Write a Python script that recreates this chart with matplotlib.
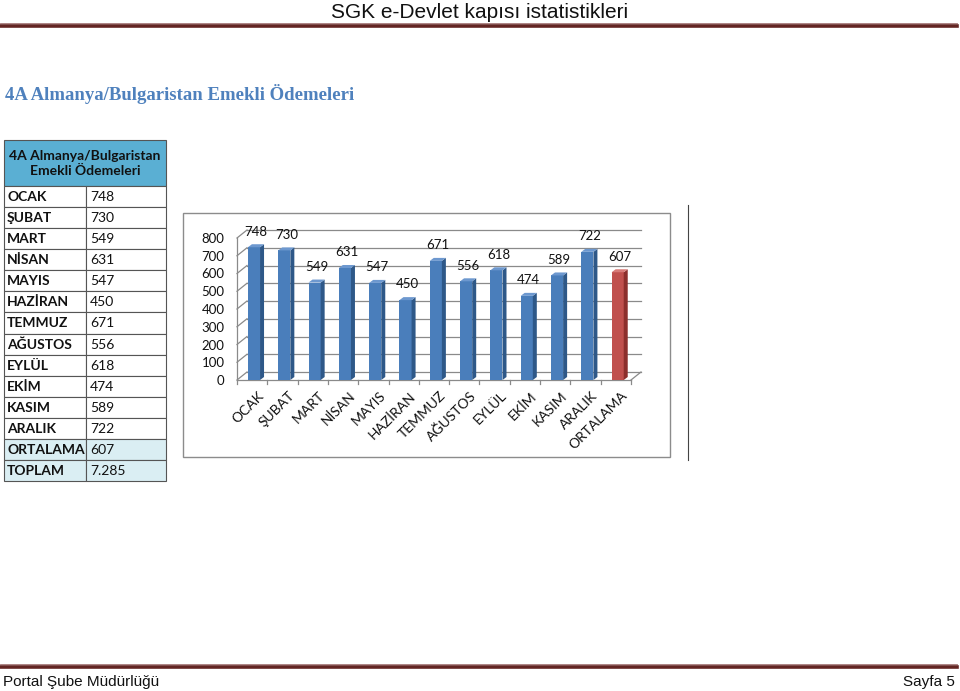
import numpy as np
import matplotlib
matplotlib.use("Agg")
import matplotlib.pyplot as plt
from matplotlib.patches import Rectangle, Polygon
import matplotlib.transforms as mtransforms

months = ["OCAK", "ŞUBAT", "MART", "NİSAN", "MAYIS", "HAZİRAN", "TEMMUZ",
          "AĞUSTOS", "EYLÜL", "EKİM", "KASIM", "ARALIK"]
values = [748, 730, 549, 631, 547, 450, 671, 556, 618, 474, 589, 722]
avg_label = "ORTALAMA"
avg_value = 607
total_label = "TOPLAM"
total_text = "7.285"
yticks = [0, 100, 200, 300, 400, 500, 600, 700, 800]

W, H = 960, 691
fig = plt.figure(figsize=(W / 100, H / 100), dpi=100)
fig.patch.set_facecolor("white")

# ---------- page overlay (pixel coordinates) ----------
pg = fig.add_axes([0, 0, 1, 1], zorder=0)
pg.set_xlim(0, W)
pg.set_ylim(H, 0)
pg.axis("off")

SANS = ["Lato", "DejaVu Sans"]
NARROW = ["Liberation Sans", "DejaVu Sans"]
SERIF = ["Liberation Serif", "DejaVu Serif"]
line_red = "#632523"

pg.text(480, 12, "SGK e-Devlet kapısı istatistikleri", ha="center", va="center",
        fontsize=15, family=NARROW, color="#111111")
pg.plot([0, 957], [22.5, 22.5], color="#a07070", lw=0.6)
pg.plot([0, 957], [25.5, 25.5], color=line_red, lw=2.6)
pg.plot([0, 957], [664, 664], color="#a07070", lw=0.6)
pg.plot([0, 957], [667, 667], color=line_red, lw=2.6)
pg.text(3, 682, "Portal Şube Müdürlüğü", ha="left", va="center",
        fontsize=11, family=NARROW, color="#111111")
pg.text(955, 682, "Sayfa 5", ha="right", va="center",
        fontsize=11, family=NARROW, color="#111111")

pg.text(5, 94, "4A Almanya/Bulgaristan Emekli Ödemeleri", ha="left", va="center",
        fontsize=13.5, family=SERIF, fontweight="bold", color="#4F81BD")

# ---------- table ----------
tx0, tx1, tsplit = 4, 166, 86
ty_head0, ty_head1 = 140, 186
rows = [(m, str(v)) for m, v in zip(months, values)] + \
       [(avg_label, str(avg_value)), (total_label, total_text)]
rh = (481 - ty_head1) / len(rows)
edge = "#555555"
pg.add_patch(Rectangle((tx0, ty_head0), tx1 - tx0, ty_head1 - ty_head0,
                       facecolor="#5AAFD3", edgecolor=edge, lw=0.8))
pg.text((tx0 + tx1) / 2, (ty_head0 + ty_head1) / 2 + 0.5,
        "4A Almanya/Bulgaristan\nEmekli Ödemeleri", ha="center", va="center",
        fontsize=10, family=SANS, fontweight="bold", color="#111111",
        linespacing=1.2)
for i, (lab, val) in enumerate(rows):
    y0 = ty_head1 + i * rh
    fc = "#DAEEF3" if i >= len(months) else "white"
    pg.add_patch(Rectangle((tx0, y0), tsplit - tx0, rh, facecolor=fc,
                           edgecolor=edge, lw=0.8))
    pg.add_patch(Rectangle((tsplit, y0), tx1 - tsplit, rh, facecolor=fc,
                           edgecolor=edge, lw=0.8))
    pg.text(tx0 + 3, y0 + rh / 2 + 0.5, lab, ha="left", va="center",
            fontsize=10, family=SANS, fontweight="bold", color="#111111")
    pg.text(tsplit + 4, y0 + rh / 2 + 0.5, val, ha="left", va="center",
            fontsize=10, family=SANS, color="#111111")

# chart frame
pg.add_patch(Rectangle((183, 213), 670 - 183, 457 - 213, facecolor="white",
                       edgecolor="#8c8c8c", lw=1.0))
pg.plot([687.5, 687.5], [205, 460], color="#444444", lw=0.8)

# ---------- chart ----------
ax_l, ax_r = 237, 631
ax_b, ax_t = 380, 238
ax = fig.add_axes([ax_l / W, (H - ax_b) / H, (ax_r - ax_l) / W, (ax_b - ax_t) / H],
                  zorder=2)
ax.patch.set_alpha(0)
cats = months + [avg_label]
vals = values + [avg_value]
x = np.arange(len(cats))
xmin, xmax = -0.5, len(cats) - 0.5
ax.set_xlim(xmin, xmax)
ax.set_ylim(0, 800)
ppx = (ax_r - ax_l) / (xmax - xmin)
ppy = (ax_b - ax_t) / 800.0

# walls / grid (3D look)
wx, wy = 10 / ppx, 8 / ppy
grid_c = "#8a8a8a"
for v in yticks:
    ax.plot([xmin + wx, xmax + wx], [v + wy, v + wy], color=grid_c, lw=0.9,
            zorder=1, clip_on=False)
    ax.plot([xmin, xmin + wx], [v, v + wy], color=grid_c, lw=0.9, zorder=1,
            clip_on=False)
ax.plot([xmin, xmin], [0, 800], color=grid_c, lw=0.9, zorder=1, clip_on=False)
ax.plot([xmin, xmax], [0, 0], color=grid_c, lw=0.9, zorder=1, clip_on=False)
ax.plot([xmax, xmax + wx], [0, wy], color=grid_c, lw=0.9, zorder=1, clip_on=False)

# bars
bw = 0.4
bx = x + 0.06
dx, dy = 4 / ppx, 3 / ppy
front_c = ["#4A7EBB"] * len(months) + ["#C0504D"]
side_c = ["#2E5888"] * len(months) + ["#8C2F2C"]
top_c = ["#6D98CF"] * len(months) + ["#D77A77"]
ax.bar(bx, vals, width=bw, color=front_c, edgecolor="none", zorder=3)
for xi, v, sc, tc in zip(bx, vals, side_c, top_c):
    xr = xi + bw / 2
    xl = xi - bw / 2
    ax.add_patch(Polygon([[xr, 0], [xr, v], [xr + dx, v + dy], [xr + dx, dy]],
                         closed=True, facecolor=sc, edgecolor="none", zorder=3,
                         clip_on=False))
    ax.add_patch(Polygon([[xl, v], [xr, v], [xr + dx, v + dy], [xl + dx, v + dy]],
                         closed=True, facecolor=tc, edgecolor="none", zorder=3,
                         clip_on=False))
    ax.annotate(str(v), (xi + dx / 2, v), xytext=(0, 7), textcoords="offset points",
                ha="center", va="bottom", fontsize=9.5, family=SANS,
                color="#111111", zorder=4, annotation_clip=False)

for s in ax.spines.values():
    s.set_visible(False)
ax.set_yticks(yticks)
ax.set_yticklabels([str(t) for t in yticks], fontsize=9.5, family=SANS,
                   color="#111111")
ax.tick_params(axis="y", length=0, pad=9)
ax.set_xticks(x)
ax.set_xticklabels(cats, rotation=45, ha="right", rotation_mode="anchor",
                   fontsize=10, family=SANS, color="#111111")
ax.tick_params(axis="x", length=0, pad=7)
off = mtransforms.ScaledTranslation(4 / 72, 0, fig.dpi_scale_trans)
for lbl in ax.get_xticklabels():
    lbl.set_transform(lbl.get_transform() + off)
# small ticks between categories on the floor edge
for b in np.arange(xmin, xmax + 0.01, 1.0):
    ax.plot([b, b], [0, -4 / ppy], color=grid_c, lw=0.9, clip_on=False, zorder=1)

fig.savefig("out.png", dpi=100, facecolor="white")
